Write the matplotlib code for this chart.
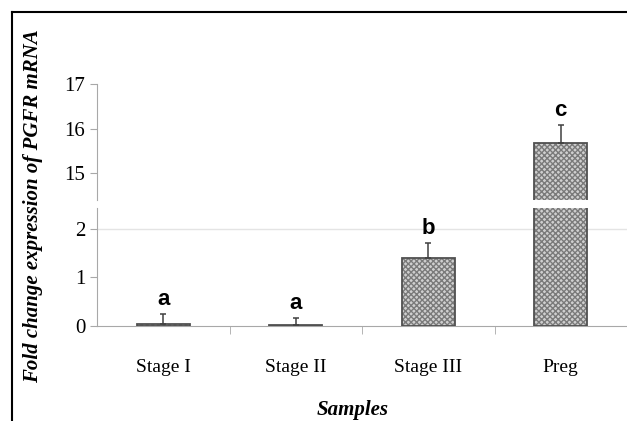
import matplotlib
matplotlib.use('Agg')
import matplotlib.pyplot as plt
from matplotlib.lines import Line2D

## 数据
samples = ['Stage I', 'Stage II', 'Stage III', 'Preg']
fold_change = [0.05, 0.03, 1.40, 15.67]
sem = [0.20, 0.13, 0.31, 0.40]
letters = ['a', 'a', 'b', 'c']

W, H = 627, 421
fig = plt.figure(figsize=(W / 100, H / 100), dpi=100)

def px_axes(x0, y_top, x1, y_bot):
    return fig.add_axes([x0 / W, 1 - y_bot / H, (x1 - x0) / W, (y_bot - y_top) / H])

ax_top = px_axes(97, 84, 627, 200)
ax_bot = px_axes(97, 208, 627, 326)

x = list(range(len(samples)))
spine_c = '#a8a8a8'
serif = 'Liberation Serif'

for ax in (ax_top, ax_bot):
    ax.bar(x, fold_change, width=0.4, color='#cfcfcf', edgecolor='#7a7a7a',
           hatch='xxxxxx', linewidth=0, zorder=2)
    ax.bar(x, fold_change, width=0.4, fill=False, edgecolor='#505050',
           linewidth=1.3, zorder=3)
    ax.errorbar(x, fold_change, yerr=[[0] * 4, sem], fmt='none',
                ecolor='#404040', elinewidth=1.1, capsize=2, capthick=1.1, zorder=4)
    ax.set_xlim(-0.5, 3.5)
    for s in ('top', 'right'):
        ax.spines[s].set_visible(False)
    ax.spines['left'].set_color(spine_c)
    ax.spines['bottom'].set_color(spine_c)
    ax.tick_params(axis='y', colors=spine_c, labelcolor='black', length=5,
                   labelsize=15)

ax_top.set_ylim(14.4, 17)
ax_top.set_yticks([15, 16, 17])
ax_top.spines['bottom'].set_visible(False)
ax_top.set_xticks([])

ax_bot.set_ylim(0, 2.43)
ax_bot.set_yticks([0, 1, 2])
ax_bot.axhline(2, color='#e4e4e4', linewidth=1, zorder=1)
ax_bot.set_xticks(x)
ax_bot.set_xticklabels(samples, fontfamily=serif, fontsize=14)
ax_bot.tick_params(axis='x', which='major', length=0, pad=24)
ax_bot.set_xticks([0.5, 1.5, 2.5, 3.5], minor=True)
ax_bot.tick_params(axis='x', which='minor', length=6, colors=spine_c)
for ax in (ax_top, ax_bot):
    for lab in ax.get_yticklabels():
        lab.set_fontfamily(serif)

## 显著性字母
for i, (v, e, t) in enumerate(zip(fold_change, sem, letters)):
    ax = ax_top if v > 10 else ax_bot
    ax.annotate(t, (i, v + e), xytext=(0, 3), textcoords='offset points',
                ha='center', va='bottom', fontsize=16, fontweight='bold',
                fontfamily='Liberation Sans')

fig.text(33 / W, 1 - 206 / H, 'Fold change expression of PGFR mRNA',
         rotation=90, ha='center', va='center', fontsize=15,
         fontweight='bold', fontstyle='italic', fontfamily=serif)
fig.text(353 / W, 1 - 410 / H, 'Samples', ha='center', va='center',
         fontsize=15, fontweight='bold', fontstyle='italic', fontfamily=serif)

## 外框
fig.add_artist(Line2D([12 / W, 1], [1 - 12 / H, 1 - 12 / H], color='black',
                      linewidth=1.5, transform=fig.transFigure))
fig.add_artist(Line2D([12 / W, 12 / W], [0, 1 - 12 / H], color='black',
                      linewidth=1.5, transform=fig.transFigure))

fig.savefig('out.png', dpi=100)
